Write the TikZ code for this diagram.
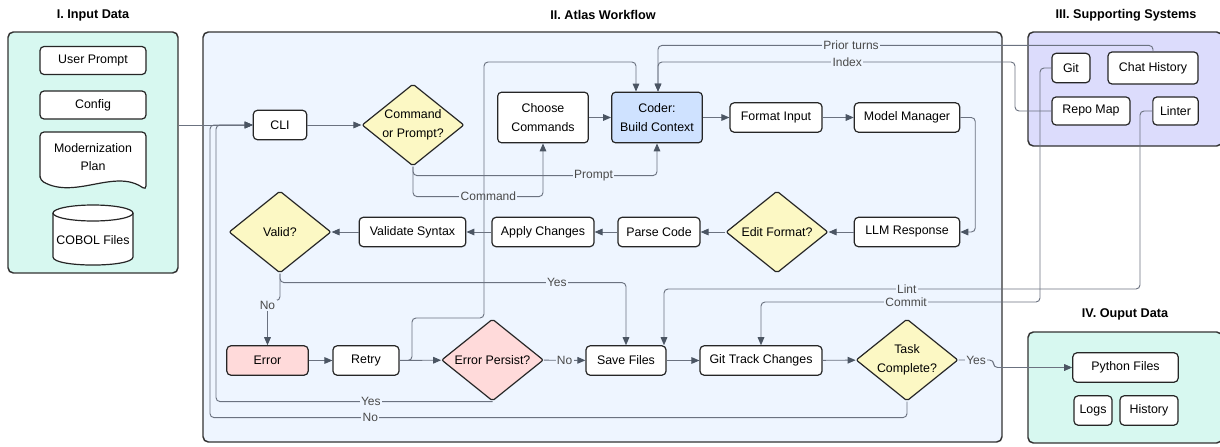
\documentclass[tikz,border=0pt]{standalone}
\usepackage{fontspec}
\setmainfont{Liberation Sans}
\usetikzlibrary{shapes.geometric,arrows.meta}
\definecolor{mintbg}{HTML}{D7F8F0}
\definecolor{flowbg}{HTML}{EEF5FF}
\definecolor{supbg}{HTML}{DCDCFC}
\definecolor{coderfill}{HTML}{CFE2FF}
\definecolor{askfill}{HTML}{FCF8C4}
\definecolor{errfill}{HTML}{FFDADA}
\definecolor{edgegray}{HTML}{6B7280}
\definecolor{tipgray}{HTML}{4B5563}
\definecolor{framegray}{HTML}{333333}
\definecolor{lblgray}{HTML}{4A4A4A}
\begin{document}
\begin{tikzpicture}[x=0.75pt,y=-0.75pt]
  \tikzstyle{group}=[draw=framegray,line width=1.1pt,rounded corners=4pt,inner sep=0pt]
  \tikzstyle{title}=[font=\fontsize{9.5}{11}\selectfont\bfseries]
  \tikzstyle{box}=[draw=black!85,fill=white,line width=0.9pt,rounded corners=3pt,minimum height=22pt,inner sep=2pt,align=center,font=\fontsize{9.3}{14}\selectfont]
  \tikzstyle{ask}=[diamond,draw=black!85,fill=askfill,line width=0.9pt,rounded corners=1.5pt,aspect=1.24,minimum width=76.5pt,minimum height=61.5pt,inner sep=0pt,align=center,font=\fontsize{9.3}{14}\selectfont]
  \tikzstyle{flow}=[draw=edgegray,line width=0.7pt,rounded corners=3pt,-{Triangle[length=6pt,width=5pt,color=tipgray]}]
  \tikzstyle{lbl}=[fill=flowbg,inner sep=1pt,text=lblgray,font=\fontsize{9}{10}\selectfont,rounded corners=0pt]
  \useasboundingbox (0,0) rectangle (1220,446);

  \node[group,fill=mintbg,minimum width=127.5pt,minimum height=180.75pt] (inbox) at (93,152.5) {};
  \node[title] (intitle) at (93,15) {I. Input Data};
  \node[group,fill=flowbg,minimum width=599.25pt,minimum height=307.5pt] (wfbox) at (602.5,237) {};
  \node[title] (wftitle) at (603,15) {II. Atlas Workflow};
  \node[group,fill=supbg,minimum width=145.5pt,minimum height=85.5pt] (supbox) at (1125,89) {};
  \node[title] (suptitle) at (1126,15) {III. Supporting Systems};
  \node[group,fill=mintbg,minimum width=145.5pt,minimum height=83.25pt] (outbox) at (1125,387.5) {};
  \node[title] (outtitle) at (1125,314) {IV. Ouput Data};

  \node[box,minimum width=79.5pt,minimum height=21pt] (prompt) at (93,60.5) {User Prompt};
  \node[box,minimum width=79.5pt,minimum height=21pt] (config) at (93,105) {Config};
  \draw[draw=black!85,fill=white,line width=0.9pt,rounded corners=3pt] (40,180) -- (40,132) -- (146,132) -- (146,190) .. controls (115,168) and (75,200) .. (40,180) -- cycle;
  \node[align=center,font=\fontsize{9.3}{14}\selectfont] (plan) at (93,157) {Modernization\\Plan};
  \draw[draw=black!85,fill=white,line width=0.9pt] (53,213) -- (53,257) .. controls (53,267.7) and (133,267.7) .. (133,257) -- (133,213);
  \draw[draw=black!85,fill=white,line width=0.9pt] (93,213) ellipse [x radius=30pt,y radius=6pt];
  \node[font=\fontsize{9.3}{14}\selectfont] (cobol) at (93,240) {COBOL Files};

  \node[box,minimum width=40pt] (cli) at (280,125) {CLI};
  \node[ask] (cp) at (413,125) {Command\\or Prompt?};
  \node[box,minimum width=68pt,minimum height=38pt] (cc) at (543,117.5) {Choose\\Commands};
  \node[box,fill=coderfill,minimum width=68pt,minimum height=38pt] (coder) at (657,117.5) {Coder:\\Build Context};
  \node[box,minimum width=69pt] (fi) at (776,117.5) {Format Input};
  \node[box,minimum width=79pt] (mm) at (907,117.5) {Model Manager};
  \node[box,minimum width=79pt] (llm) at (907,232) {LLM Response};
  \node[ask] (ef) at (777,232) {Edit Format?};
  \node[box,minimum width=61.5pt] (pc) at (659,232) {Parse Code};
  \node[box,minimum width=76.5pt] (ac) at (543,232) {Apply Changes};
  \node[box,minimum width=80pt] (vs) at (412.5,232) {Validate Syntax};
  \node[ask] (valid) at (280,232) {Valid?};
  \node[box,fill=errfill,minimum width=61pt] (err) at (267.5,360.5) {Error};
  \node[box,minimum width=49.5pt] (retry) at (366,360.5) {Retry};
  \node[ask,fill=errfill] (ep) at (492.5,360) {Error Persist?};
  \node[box,minimum width=60pt] (sf) at (626,360.5) {Save Files};
  \node[box,minimum width=91.5pt] (gt) at (761,360.5) {Git Track Changes};
  \node[ask] (tc) at (907,360) {Task\\Complete?};

  \node[box,minimum width=28.5pt] (git) at (1071,68) {Git};
  \node[box,minimum width=67.5pt,minimum height=24pt] (ch) at (1153,68) {Chat History};
  \node[box,minimum width=58.5pt,minimum height=21pt] (rm) at (1091,111) {Repo Map};
  \node[box,minimum width=34pt,minimum height=21pt] (lint) at (1175.5,111) {Linter};

  \node[box,minimum width=79pt] (py) at (1125.5,367.5) {Python Files};
  \node[box,minimum width=28.5pt] (logs) at (1093,410.5) {Logs};
  \node[box,minimum width=43.5pt] (hist) at (1149,410.5) {History};

  \draw[flow] (inbox.east |- cli.west) -- (cli.west);
  \draw[flow] (cli) -- (cp);
  \draw[flow] (cp.south) -- ++(0,30) -| node[lbl,pos=0.29]{Command} (cc.south);
  \draw[flow] (cp.south) -- ++(0,9) -| node[lbl,pos=0.37]{Prompt} (coder.south);
  \draw[flow] (cc) -- (coder);
  \draw[flow] (coder) -- (fi);
  \draw[flow] (fi) -- (mm);
  \draw[flow] (mm.east) -- ++(15,0) |- (llm.east);
  \draw[flow] (llm) -- (ef);
  \draw[flow] (ef) -- (pc);
  \draw[flow] (pc) -- (ac);
  \draw[flow] (ac) -- (vs);
  \draw[flow] (vs) -- (valid);
  \draw[flow] (valid.south) -- ++(0,9) -| node[lbl,pos=0.4]{Yes} (sf.north);
  \draw[flow] (valid.south) -- ++(0,27) -| node[lbl,pos=0.55]{No} (err.north);
  \draw[flow] (err) -- (retry);
  \draw[flow] (retry) -- (ep);
  \draw[flow] (retry.east) -| (412,318) -| (484,62) -| ([xshift=-15.75pt]coder.north);
  \draw[flow] (ep) -- node[lbl]{No} (sf);
  \draw[flow] (ep.south) -| node[lbl,pos=0.22]{Yes} (216,125) -- (cli.west);
  \draw[flow] (tc.south) -- ++(0,16) -| node[lbl,pos=0.385]{No} (210,125) -- (cli.west);
  \draw[flow] (sf) -- (gt);
  \draw[flow] (gt) -- (tc);
  \draw[flow] (tc.east) -- node[lbl]{Yes} ++(35,0) |- (py.west);
  \draw[flow] (ch.north) -- ++(0,-6) -| node[lbl,pos=0.305]{Prior turns} ([xshift=0.75pt]coder.north);
  \draw[flow] (rm.west) -| (1015,62) -| node[lbl,pos=0.235]{Index} ([xshift=0.75pt]coder.north);
  \draw[flow] (git.west) -| (1040,302) -| node[lbl,pos=0.24]{Commit} (gt.north);
  \draw[flow] (lint.west) -| (1140,289) -| node[lbl,pos=0.245]{Lint} ([xshift=28.5pt]sf.north);
\end{tikzpicture}
\end{document}
